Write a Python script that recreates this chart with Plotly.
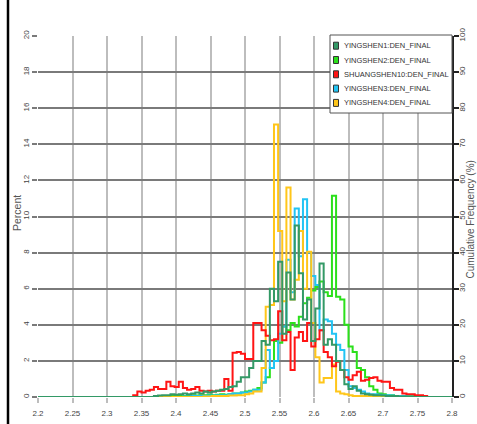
import plotly.graph_objects as go

# Histogram binning shared by all wells (density, g/cm3)
BIN_START = 2.2
BIN_WIDTH = 0.006
N_BINS = 100

series_names = [
    "YINGSHEN1:DEN_FINAL",
    "YINGSHEN2:DEN_FINAL",
    "SHUANGSHEN10:DEN_FINAL",
    "YINGSHEN3:DEN_FINAL",
    "YINGSHEN4:DEN_FINAL",
]
series_colors = ["#339966", "#2BE01B", "#FF1414", "#22C4F4", "#FFC61A"]

# Percent per bin; each list starts at the given bin index
yingshen1_first = 28
yingshen1 = [0.05, 0.08, 0.1, 0.1, 0.15, 0.12, 0.15, 0.2, 0.15, 0.2, 0.25, 0.2, 0.3, 0.25,
             0.3, 0.35, 0.4, 0.45, 0.55, 0.6, 0.85, 1.1, 1.1, 1.6, 2.0, 2.0, 3.1, 2.9, 6.0,
             5.3, 7.5, 3.5, 6.9, 5.4, 9.5, 6.85, 4.3, 5.4, 3.1, 4.9, 7.4, 2.9, 3.2, 2.9, 2.0,
             1.5, 0.7, 0.45, 0.6, 0.35, 0.2, 0.15, 0.12, 0.1, 0.1, 0.08, 0.05, 0.05, 0.05,
             0.03, 0.03]

yingshen2_first = 30
yingshen2 = [0.05, 0.05, 0.06, 0.05, 0.08, 0.06, 0.08, 0.1, 0.08, 0.1, 0.1, 0.12, 0.1, 0.12,
             0.15, 0.12, 0.15, 0.2, 0.2, 0.25, 0.3, 0.35, 0.4, 0.5, 0.8, 1.1, 1.6, 3.1, 3.0,
             3.9, 3.7, 4.1, 3.9, 4.45, 5.2, 5.5, 5.9, 6.1, 6.4, 5.8, 5.6, 11.15, 5.55, 5.4,
             4.0, 2.8, 2.5, 1.6, 1.5, 1.1, 0.6, 0.4, 0.2, 0.15, 0.1, 0.1, 0.05, 0.05, 0.05,
             0.05, 0.05]

shuangshen10_first = 23
shuangshen10 = [0.1, 0.3, 0.25, 0.35, 0.4, 0.55, 0.45, 0.45, 0.85, 0.6, 0.55, 0.85, 0.5, 0.4,
                0.45, 0.55, 0.35, 0.3, 0.35, 0.3, 0.35, 0.35, 1.0, 0.35, 2.45, 2.5, 2.4, 2.1,
                2.1, 4.1, 4.1, 3.7, 3.4, 3.15, 3.2, 4.75, 3.15, 3.6, 1.5, 3.3, 3.6, 3.1, 4.1,
                2.8, 3.2, 3.7, 2.5, 2.2, 1.7, 1.95, 1.5, 1.1, 0.95, 1.2, 1.4, 0.9, 0.95, 1.05,
                1.1, 0.9, 0.85, 0.85, 0.5, 0.4, 0.4, 0.2, 0.15, 0.15, 0.1, 0.1, 0.05]

yingshen3_first = 35
yingshen3 = [0.03, 0.03, 0.05, 0.05, 0.05, 0.06, 0.08, 0.08, 0.1, 0.1, 0.1, 0.15, 0.2, 0.2,
             0.25, 0.25, 0.3, 0.4, 0.4, 0.8, 2.6, 1.6, 2.0, 3.5, 3.9, 7.6, 5.8, 10.45, 7.8,
             10.95, 8.0, 6.7, 6.2, 3.7, 4.3, 4.2, 3.5, 2.9, 2.6, 1.5, 0.6, 0.5, 0.4, 0.3,
             0.2, 0.15, 0.15, 0.12, 0.1, 0.1, 0.08, 0.05, 0.05, 0.05, 0.03, 0.03]

yingshen4_first = 40
yingshen4 = [0.03, 0.03, 0.05, 0.05, 0.05, 0.06, 0.08, 0.08, 0.1, 0.1, 0.15, 0.2, 0.3, 0.3,
             1.6, 5.0, 5.1, 15.1, 9.2, 5.3, 11.6, 5.4, 6.5, 9.2, 6.0, 8.05, 4.1, 2.2, 0.8,
             1.05, 1.05, 1.8, 0.3, 0.2, 0.15, 0.1, 0.05, 0.05, 0.05, 0.05, 0.05, 0.05, 0.05,
             0.05, 0.05, 0.05]

series_first_bins = [yingshen1_first, yingshen2_first, shuangshen10_first,
                     yingshen3_first, yingshen4_first]
series_values = [yingshen1, yingshen2, shuangshen10, yingshen3, yingshen4]

x_ticks = [2.2, 2.25, 2.3, 2.35, 2.4, 2.45, 2.5, 2.55, 2.6, 2.65, 2.7, 2.75, 2.8]
x_tick_text = ["2.2", "2.25", "2.3", "2.35", "2.4", "2.45", "2.5", "2.55", "2.6",
               "2.65", "2.7", "2.75", "2.8"]

FONT = "Liberation Sans, Arial, sans-serif"

edges = [BIN_START + i * BIN_WIDTH for i in range(N_BINS + 1)]


def full_bins(first, vals):
    counts = [0.0] * N_BINS
    for i, v in enumerate(vals):
        counts[first + i] = v
    return counts


fig = go.Figure()

# drawing order: dark green last so its zero line sits on top
draw_order = [1, 3, 4, 2, 0]
for idx in draw_order:
    counts = full_bins(series_first_bins[idx], series_values[idx])
    fig.add_trace(go.Scatter(
        x=edges, y=counts + [counts[-1]],
        mode="lines", line=dict(color=series_colors[idx], width=2, shape="hv"),
        name=series_names[idx], showlegend=False, hoverinfo="skip",
    ))

# empty trace to bind the cumulative-frequency axis
fig.add_trace(go.Scatter(x=[2.2], y=[0], yaxis="y2", mode="markers",
                         marker=dict(opacity=0), showlegend=False, hoverinfo="skip"))

fig.update_layout(
    width=477, height=424,
    margin=dict(l=38, r=25, t=36, b=27, autoexpand=False),
    paper_bgcolor="white", plot_bgcolor="white",
    font=dict(family=FONT, size=8, color="#444"),
    xaxis=dict(
        range=[2.2, 2.8], tickvals=x_ticks, ticktext=x_tick_text,
        showgrid=True, gridcolor="#BDBDBD", gridwidth=2,
        ticks="outside", ticklen=5, tickcolor="#BDBDBD", tickwidth=2,
        zeroline=False, showline=False, tickfont=dict(size=8, color="#444"),
        ticklabelstandoff=3, automargin=False,
    ),
    yaxis=dict(
        range=[0, 20], dtick=2, tick0=0,
        showgrid=True, gridcolor="#7A7A7A", gridwidth=2,
        ticks="outside", ticklen=5, tickcolor="#7A7A7A", tickwidth=2,
        zeroline=False, showline=False, tickangle=-90,
        tickfont=dict(size=8, color="#444"), ticklabelstandoff=0, automargin=False,
    ),
    yaxis2=dict(
        range=[0, 100], dtick=10, tick0=0, overlaying="y", side="right",
        showgrid=False, zeroline=False, showline=True, linecolor="#222", linewidth=1.5,
        ticks="outside", ticklen=5, tickcolor="#222", tickwidth=1.5, tickangle=-90,
        tickfont=dict(size=8, color="#444"), ticklabelstandoff=-3, automargin=False,
    ),
)

PLOT_L, PLOT_R, PLOT_T, PLOT_B = 38, 452, 36, 397


def px_x(px):
    return (px - PLOT_L) / (PLOT_R - PLOT_L)


def px_y(py):
    return (PLOT_B - py) / (PLOT_B - PLOT_T)


shapes = []
# outer frame line on the left
shapes.append(dict(type="line", xref="paper", yref="paper",
                   x0=px_x(8), x1=px_x(8), y0=px_y(424), y1=px_y(0),
                   line=dict(color="#000", width=2.5)))

# legend box
shapes.append(dict(type="rect", xref="paper", yref="paper",
                   x0=px_x(330), x1=px_x(452), y0=px_y(113), y1=px_y(35),
                   fillcolor="white", line=dict(color="#555", width=1), layer="above"))

annotations = []
row_y0, row_step = 45.7, 14.3
for i, (name, color) in enumerate(zip(series_names, series_colors)):
    cy = row_y0 + i * row_step
    shapes.append(dict(type="rect", xref="paper", yref="paper",
                       x0=px_x(333.5), x1=px_x(338.5), y0=px_y(cy + 3.5), y1=px_y(cy - 3.5),
                       fillcolor=color, line=dict(color="#333", width=1), layer="above"))
    annotations.append(dict(xref="paper", yref="paper", x=px_x(341.5), y=px_y(cy),
                            xanchor="left", yanchor="middle", text=name, showarrow=False,
                            font=dict(family=FONT, size=7.5, color="#333")))

annotations.append(dict(xref="paper", yref="paper", x=px_x(17), y=px_y(213),
                        text="Percent", textangle=-90, showarrow=False,
                        xanchor="center", yanchor="middle",
                        font=dict(family=FONT, size=10.5, color="#555")))
annotations.append(dict(xref="paper", yref="paper", x=px_x(476), y=px_y(220),
                        text="Cumulative Frequency (%)", textangle=-90, showarrow=False,
                        xanchor="right", yanchor="middle", borderpad=0,
                        font=dict(family=FONT, size=10, color="#555")))

fig.update_layout(shapes=shapes, annotations=annotations)

fig.write_html("out.html")
